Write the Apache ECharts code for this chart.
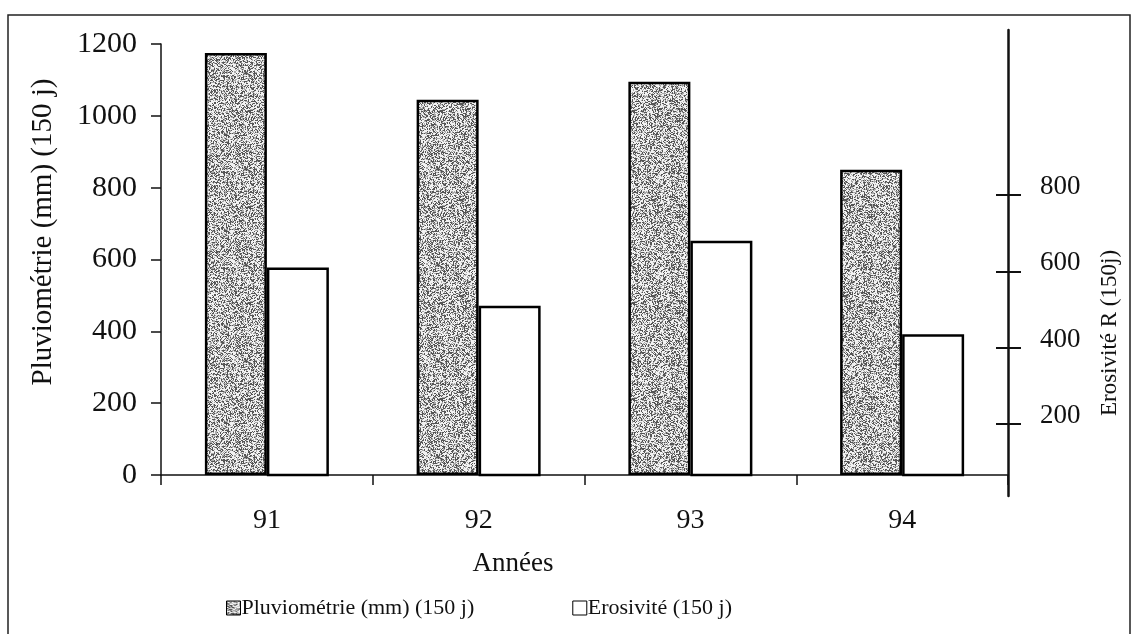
<!DOCTYPE html>
<html>
<head>
<meta charset="utf-8">
<script src="https://cdn.jsdelivr.net/npm/echarts@6/dist/echarts.min.js"></script>
<style>
html,body{margin:0;padding:0;background:#fff;}
#chart{width:1143px;height:634px;}
</style>
</head>
<body>
<div id="chart"></div>
<script>
// ---- data ----
var categories = ['91', '92', '93', '94'];
var pluviometrie = [1175, 1045, 1095, 850];     // left axis (mm)
var erosivite = [610, 510, 680, 435];           // right axis (R)
var leftTicks = [0, 200, 400, 600, 800, 1000, 1200];
var rightTicks = [200, 400, 600, 800];
var seriesNames = ['Pluviométrie (mm) (150 j)', 'Erosivité (150 j)'];
var xTitle = 'Années';
var yLeftTitle = 'Pluviométrie (mm) (150 j)';
var yRightTitle = 'Erosivité R (150j)';

// stipple texture for the rainfall bars (deterministic)
function makeStipple() {
  var c = document.createElement('canvas');
  c.width = 96; c.height = 96;
  var ctx = c.getContext('2d');
  var img = ctx.createImageData(96, 96);
  for (var y = 0; y < 96; y++) {
    for (var x = 0; x < 96; x++) {
      var h = Math.sin(x * 12.9898 + y * 78.233) * 43758.5453;
      h = h - Math.floor(h);
      var v = h < 0.32 ? 85 : (h < 0.55 ? 170 : 242);
      var i = (y * 96 + x) * 4;
      img.data[i] = v; img.data[i + 1] = v; img.data[i + 2] = v; img.data[i + 3] = 255;
    }
  }
  ctx.putImageData(img, 0, 0);
  return c;
}

var FONT = 'Liberation Serif';
var chart = echarts.init(document.getElementById('chart'), null, {renderer: 'canvas'});

var option = {
  backgroundColor: '#ffffff',
  animation: false,
  textStyle: {fontFamily: FONT, color: '#111'},
  grid: [
    {left: 161, right: 135, top: 44, bottom: 159, containLabel: false},
    {left: 161, right: 135, top: 30, bottom: 138, containLabel: false}
  ],
  legend: {
    left: 221, top: 592,
    itemWidth: 14, itemHeight: 14, itemGap: 98,
    icon: 'rect',
    data: seriesNames,
    itemStyle: {borderWidth: 1, borderColor: '#000'},
    textStyle: {fontFamily: FONT, fontSize: 22, color: '#111', padding: [0, 0, 0, -4]}
  },
  xAxis: [
    {
      type: 'category', gridIndex: 0, data: categories,
      axisLine: {lineStyle: {color: '#111', width: 1.5}},
      axisTick: {show: true, length: 10, interval: 0, alignWithLabel: false, lineStyle: {color: '#111', width: 1.5}},
      axisLabel: {margin: 32, fontFamily: FONT, fontSize: 28, color: '#111'},
      splitLine: {show: false}
    },
    {type: 'category', gridIndex: 1, data: categories, show: false}
  ],
  yAxis: [
    {
      type: 'value', gridIndex: 0, position: 'left',
      min: leftTicks[0], max: leftTicks[leftTicks.length - 1], interval: 200,
      axisLine: {show: true, lineStyle: {color: '#111', width: 1.5}},
      axisTick: {show: true, length: 10, lineStyle: {color: '#111', width: 1.5}},
      axisLabel: {margin: 24, fontFamily: FONT, fontSize: 30, color: '#111',
                  formatter: function (v) { return String(v); }},
      splitLine: {show: false}
    },
    {
      type: 'value', gridIndex: 0, position: 'right',
      min: 66, max: 1196,
      axisLine: {show: false},
      axisTick: {show: true, length: 13, customValues: rightTicks, lineStyle: {color: '#111', width: 2}},
      axisLabel: {show: true, customValues: rightTicks, margin: 32, color: '#111',
                  formatter: function (v) { return '{a|' + v + '}'; },
                  rich: {a: {fontFamily: FONT, fontSize: 27, color: '#111', padding: [0, 0, 16, 0]}}},
      splitLine: {show: false}
    },
    {
      type: 'value', gridIndex: 0, position: 'right',
      min: 66, max: 1196,
      axisLine: {show: false},
      axisTick: {show: true, inside: true, length: 12, customValues: rightTicks, lineStyle: {color: '#111', width: 2}},
      axisLabel: {show: false},
      splitLine: {show: false}
    },
    {
      type: 'value', gridIndex: 1, position: 'right', min: 0, max: 1,
      axisLine: {show: true, onZero: false, lineStyle: {color: '#111', width: 2.5}},
      axisTick: {show: false}, axisLabel: {show: false}, splitLine: {show: false}
    }
  ],
  series: [
    {
      name: seriesNames[0], type: 'bar', xAxisIndex: 0, yAxisIndex: 0,
      data: pluviometrie, barWidth: 62, barGap: '0%',
      itemStyle: {color: {image: makeStipple(), repeat: 'repeat'}, borderColor: '#000', borderWidth: 2.5}
    },
    {
      name: seriesNames[1], type: 'bar', xAxisIndex: 0, yAxisIndex: 1,
      data: erosivite, barWidth: 62, barGap: '0%',
      itemStyle: {color: '#ffffff', borderColor: '#000', borderWidth: 2.5}
    }
  ],
  graphic: [
    {type: 'rect', silent: true, shape: {x: 8, y: 15, width: 1122, height: 650},
     style: {fill: 'none', stroke: '#222', lineWidth: 1.5}, z: 100},
    {type: 'text', x: 43, y: 232, rotation: Math.PI / 2,
     style: {text: yLeftTitle, fontFamily: FONT, fontSize: 29, fill: '#111', align: 'center', verticalAlign: 'middle'}},
    {type: 'text', x: 1110, y: 333, rotation: Math.PI / 2,
     style: {text: yRightTitle, fontFamily: FONT, fontSize: 23, fill: '#111', align: 'center', verticalAlign: 'middle'}},
    {type: 'text', x: 513, y: 564,
     style: {text: xTitle, fontFamily: FONT, fontSize: 27, fill: '#111', align: 'center', verticalAlign: 'middle'}}
  ]
};
chart.setOption(option);
</script>
</body>
</html>
